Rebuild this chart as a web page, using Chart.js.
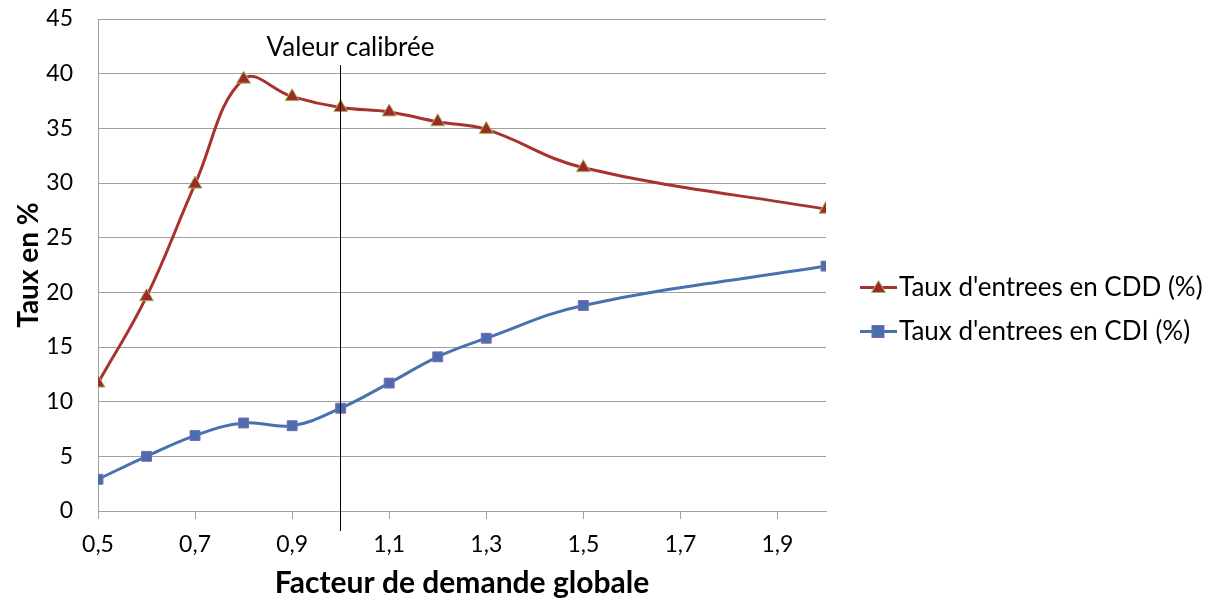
<!DOCTYPE html>
<html>
<head>
<meta charset="utf-8">
<script src="https://cdn.jsdelivr.net/npm/chart.js@4.4.1/dist/chart.umd.min.js"></script>
<style>
  html, body { margin: 0; padding: 0; background: #fff; }
  #wrap { width: 1212px; height: 601px; }
</style>
</head>
<body>
<div id="wrap"><canvas id="taux-chart" width="1212" height="601"></canvas></div>
<script>
// Facteur de demande globale
const facteurs = [0.5, 0.6, 0.7, 0.8, 0.9, 1.0, 1.1, 1.2, 1.3, 1.5, 2.0];
// Taux d'entrees (%)
const tauxCDD = [11.7, 19.6, 29.9, 39.5, 37.9, 36.9, 36.5, 35.6, 34.9, 31.4, 27.6];
const tauxCDI = [2.9, 5.0, 6.9, 8.05, 7.8, 9.4, 11.7, 14.1, 15.8, 18.8, 22.4];
const xTicks = [0.5, 0.7, 0.9, 1.1, 1.3, 1.5, 1.7, 1.9];
const valeurCalibree = 1.0;

const FONT = 'Lato, "Open Sans", sans-serif';

const toPoints = (ys) => facteurs.map((x, i) => ({ x: x, y: ys[i] }));

// vertical marker + legend on the right
const extras = {
  id: 'extras',
  afterDatasetsDraw(chart) {
    const ctx = chart.ctx;
    const xs = chart.scales.x;
    const px = Math.round(xs.getPixelForValue(valeurCalibree)) - 0.5;
    ctx.save();
    ctx.strokeStyle = '#000';
    ctx.lineWidth = 1;
    ctx.beginPath();
    ctx.moveTo(px, 65);
    ctx.lineTo(px, 531);
    ctx.stroke();
    ctx.fillStyle = '#000';
    ctx.font = '26px ' + FONT;
    ctx.textAlign = 'center';
    ctx.textBaseline = 'middle';
    ctx.fillText('Valeur calibr\u00e9e', px + 10, 48);

    // legend
    const rows = [287, 331];
    chart.data.datasets.forEach((ds, i) => {
      const y = rows[i] + 0.5;
      ctx.strokeStyle = ds.borderColor;
      ctx.lineWidth = 3;
      ctx.beginPath();
      ctx.moveTo(860, y);
      ctx.lineTo(897, y);
      ctx.stroke();
      ctx.fillStyle = ds.pointBackgroundColor;
      ctx.strokeStyle = ds.pointBorderColor;
      ctx.lineWidth = 1;
      if (ds.pointStyle === 'triangle') {
        ctx.beginPath();
        ctx.moveTo(878.5, y - 7);
        ctx.lineTo(885.5, y + 5);
        ctx.lineTo(871.5, y + 5);
        ctx.closePath();
        ctx.fill();
        ctx.stroke();
      } else {
        ctx.fillRect(872, y - 6, 12, 12);
        ctx.strokeRect(872, y - 6, 12, 12);
      }
      ctx.fillStyle = '#000';
      ctx.font = '26px ' + FONT;
      ctx.textAlign = 'left';
      ctx.fillText(ds.label, 899, y);
    });
    ctx.restore();
  }
};

new Chart(document.getElementById('taux-chart').getContext('2d'), {
  type: 'line',
  data: {
    datasets: [
      {
        label: "Taux d'entrees en CDD (%)",
        data: toPoints(tauxCDD),
        borderColor: '#A8322F',
        borderWidth: 3,
        tension: 0.4,
        pointStyle: 'triangle',
        pointRadius: 8,
        pointBackgroundColor: '#A02826',
        pointBorderColor: '#9BBB59',
        pointBorderWidth: 1
      },
      {
        label: "Taux d'entrees en CDI (%)",
        data: toPoints(tauxCDI),
        borderColor: '#4672B0',
        borderWidth: 3,
        tension: 0.4,
        pointStyle: 'rect',
        pointRadius: 7,
        pointBackgroundColor: '#4A6DB0',
        pointBorderColor: '#7E68B0',
        pointBorderWidth: 1
      }
    ]
  },
  options: {
    responsive: false,
    animation: false,
    layout: {
      padding: { top: 19, right: 386, bottom: 0, left: 0 }
    },
    plugins: {
      legend: { display: false },
      tooltip: { enabled: false }
    },
    scales: {
      x: {
        type: 'linear',
        min: 0.5,
        max: 2.0,
        afterBuildTicks: (scale) => {
          scale.ticks = xTicks.map(v => ({ value: v }));
        },
        afterFit: (scale) => {
          scale.height = 90;
          scale.paddingLeft = 0;
          scale.paddingRight = 0;
        },
        border: { color: '#A0A0A0', width: 1 },
        grid: { drawOnChartArea: false, drawTicks: true, tickLength: 8, color: '#A0A0A0' },
        ticks: {
          color: '#000',
          font: { family: FONT, size: 23 },
          padding: 12,
          maxRotation: 0,
          callback: (v) => v.toFixed(1).replace('.', ',')
        },
        title: {
          display: true,
          text: 'Facteur de demande globale',
          color: '#000',
          font: { family: FONT, size: 30, weight: 'bold' },
          padding: { top: 12, bottom: 0 }
        }
      },
      y: {
        min: 0,
        max: 45,
        ticks: {
          stepSize: 5,
          color: '#000',
          font: { family: FONT, size: 23 },
          padding: 25
        },
        afterFit: (scale) => {
          scale.width = 98;
          scale.paddingTop = 0;
          scale.paddingBottom = 0;
        },
        border: { display: true, color: '#A0A0A0', width: 1 },
        grid: { color: '#A0A0A0', lineWidth: 1, drawTicks: false },
        title: {
          display: true,
          text: 'Taux en %',
          color: '#000',
          font: { family: FONT, size: 28, weight: 'bold' },
          padding: { top: 12, bottom: 4 }
        }
      }
    }
  },
  plugins: [extras]
});
</script>
</body>
</html>
